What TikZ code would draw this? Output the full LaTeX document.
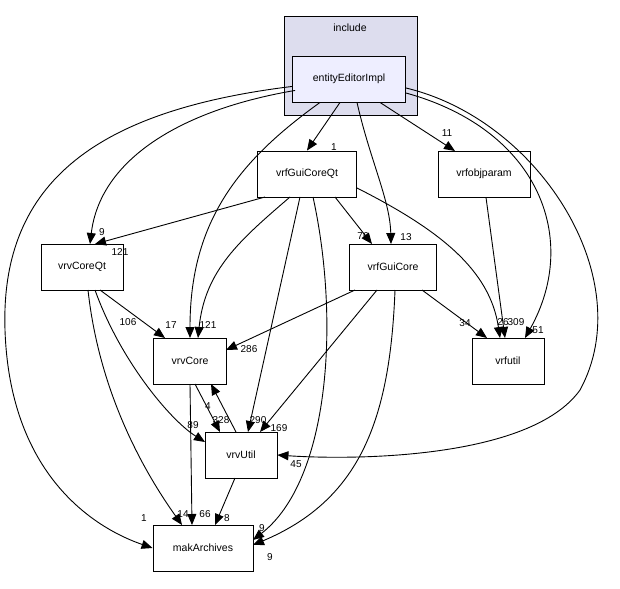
\documentclass[tikz,border=0pt]{standalone}
\usepackage{fontspec}
\setmainfont{Liberation Sans}
\usetikzlibrary{arrows.meta}
\definecolor{clusterfill}{HTML}{DDDDEE}
\definecolor{mainfill}{HTML}{EEEEFF}
\tikzset{
  dir/.style={draw, fill=white, minimum height=46pt, font=\fontsize{10.5}{12}\selectfont},
  dep/.style={-{Triangle[length=11pt,width=9pt]}, line width=0.9pt},
  num/.style={font=\fontsize{10}{11}\selectfont, inner sep=0pt}
}
\begin{document}
\begin{tikzpicture}[x=1pt,y=-1pt, line width=0.9pt]
		\useasboundingbox (0,0) rectangle (620,588);
		% cluster
		\draw [fill=clusterfill] (284,16) rectangle (417,115);
		\node [font=\fontsize{10.5}{12}\selectfont](inc) at (350,28) {include};
		% directories
		\node [dir, fill=mainfill, minimum width=113pt](eei) at (349,79) {entityEditorImpl};
		\node [dir, minimum width=99pt](gcqt) at (307,174) {vrfGuiCoreQt};
		\node [dir, minimum width=92pt](objp) at (484,174) {vrfobjparam};
		\node [dir, minimum width=82pt](cqt) at (82,267) {vrvCoreQt};
		\node [dir, minimum width=87pt](gc) at (393,267) {vrfGuiCore};
		\node [dir, minimum width=73pt](core) at (190,361) {vrvCore};
		\node [dir, minimum width=72pt](futil) at (508,361) {vrfutil};
		\node [dir, minimum width=72pt](util) at (241,455) {vrvUtil};
		\node [dir, minimum width=100pt](mak) at (203,548) {makArchives};
		% entityEditorImpl
		\draw [dep] (eei.south west) ++(0,-16) .. controls (100,110) and (0,180) .. (5,330) .. controls (10,480) and (100,530) .. (mak.west);
		\draw [dep] (eei.east) ++(0,9) .. controls (540,120) and (640,280) .. (580,390) .. controls (530,460) and (350,460) .. (util.east);
		\draw [dep] (eei.east) ++(0,14) .. controls (540,130) and (580,240) .. (525,338);
		\draw [dep] (eei.south west) ++(3,-12) .. controls (180,110) and (100,160) .. (90,244);
		\draw [dep] (eei.south) ++(-29,0) .. controls (240,160) and (190,220) .. (190,338);
		\draw [dep] (eei.south) ++(8,0) .. controls (370,160) and (390,200) .. (391,244);
		\draw [dep] (eei.south) ++(-9,0) -- (gcqt.north);
		\draw [dep] (eei.south) ++(31,0) -- (455,151);
		\node [num](n1) at (334,147) {1};
		\node [num](n2) at (447,133) {11};
		\node [num](n3) at (102,232) {9};
		\node [num](n4) at (406,237) {13};
		\node [num](n5) at (171,325) {17};
		\node [num](n6) at (538,330) {51};
		\node [num](n7) at (296,464) {45};
		\node [num](n8) at (144,518) {1};
		% vrfGuiCoreQt
		\draw [dep] (265,197) -- (95,244);
		\draw [dep] (335,197) -- (372,244);
		\draw [dep] (290,197) .. controls (240,240) and (205,270) .. (198,338);
		\draw [dep] (357,188) .. controls (440,230) and (490,270) .. (500,338);
		\draw [dep] (300,197) -- (248,432);
		\draw [dep] (313,197) .. controls (340,320) and (330,480) .. (253,540);
		\draw [dep] (objp.south) ++(2,0) -- (505,338);
		\node [num](n9) at (120,252) {121};
		\node [num](n10) at (363,236) {76};
		\node [num](n11) at (208,325) {121};
		\node [num](n12) at (503,322) {26};
		\node [num](n13) at (258,420) {290};
		\node [num](n14) at (262,528) {9};
		\node [num](n15) at (516,322) {309};
		% vrvCoreQt
		\draw [dep] (100,290) -- (165,338);
		\draw [dep] (95,290) .. controls (120,360) and (170,420) .. (205,442);
		\draw [dep] (88,290) .. controls (100,400) and (150,480) .. (182,525);
		\node [num](n16) at (128,322) {106};
		\node [num](n17) at (193,425) {89};
		\node [num](n18) at (183,514) {14};
		% vrfGuiCore
		\draw [dep] (355,290) -- (226,350);
		\draw [dep] (422,290) -- (487,338);
		\draw [dep] (377,290) -- (260,432);
		\draw [dep] (395,290) .. controls (390,420) and (360,500) .. (253,545);
		\node [num](n19) at (249,349) {286};
		\node [num](n20) at (465,323) {34};
		\node [num](n21) at (279,428) {169};
		\node [num](n22) at (270,557) {9};
		% vrvCore and vrvUtil
		\draw [dep] (195,384) -- (220,432);
		\draw [dep] (236,432) -- (211,384);
		\draw [dep] (190,384) -- (192,525);
		\draw [dep] (235,478) -- (215,525);
		\node [num](n23) at (221,420) {328};
		\node [num](n24) at (208,406) {4};
		\node [num](n25) at (205,514) {66};
		\node [num](n26) at (227,518) {8};
\end{tikzpicture}
\end{document}
